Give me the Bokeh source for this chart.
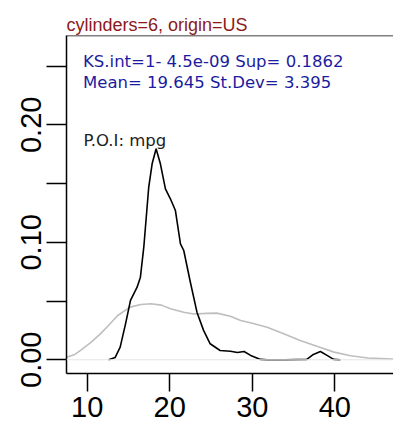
from bokeh.plotting import figure
from bokeh.models import Range1d, FixedTicker, Span, Label
from bokeh.embed import file_html
from bokeh.resources import INLINE

title_text = "cylinders=6, origin=US"
stats_line1 = "KS.int=1- 4.5e-09 Sup= 0.1862"
stats_line2 = "Mean= 19.645 St.Dev= 3.395"
poi_text = "P.O.I: mpg"

# overall density (gray)
gray_x = [7.5, 8.5, 9.2, 10.5, 11.6, 12.7, 13.7, 15.2, 16.5, 17.7, 19.0, 20.1, 21.7,
          22.9, 24.5, 25.7, 27.35, 28.6, 30.0, 31.8, 33.5, 35.8, 38.0, 39.9, 41.9, 44.0, 47.1]
gray_y = [0.0022, 0.0045, 0.008, 0.015, 0.022, 0.030, 0.0377, 0.0448, 0.047, 0.0477, 0.0465,
          0.0434, 0.0405, 0.039, 0.0395, 0.0397, 0.037, 0.0334, 0.031, 0.0277, 0.023, 0.0164,
          0.011, 0.0065, 0.0034, 0.0015, 0.0005]

# group density (black)
black_x = [12.6, 13.4, 14.0, 14.65, 15.25, 16.05, 16.45, 16.86, 17.46, 17.87, 18.35, 18.87,
           19.48, 20.08, 20.69, 21.3, 21.7, 22.5, 23.3, 24.1, 24.9, 26.1, 27.35, 28.2, 29.0,
           29.8, 31.0, 31.8, 34.0, 36.6, 37.4, 38.25, 39.05, 39.85, 40.67]
black_y = [0.0, 0.002, 0.0107, 0.0306, 0.0505, 0.0618, 0.0703, 0.0958, 0.147, 0.1668, 0.1796,
           0.1668, 0.1455, 0.137, 0.127, 0.0987, 0.093, 0.066, 0.0405, 0.025, 0.0136, 0.0079,
           0.0073, 0.0062, 0.007, 0.0037, 0.0003, 0.0, 0.0, 0.0003, 0.0045, 0.007, 0.0037,
           0.0003, 0.0]

x_ticks = [10, 20, 30, 40]
y_ticks = [0.0, 0.05, 0.10, 0.15, 0.20, 0.25]
y_labels = {0.0: "0.00", 0.05: "", 0.10: "0.10", 0.15: "", 0.20: "0.20", 0.25: ""}

FONT = "Liberation Sans"
TEXT_FONT = "DejaVu Sans"

p = figure(width=393, height=425, output_backend="svg", toolbar_location=None,
           x_range=Range1d(7.5, 47.1), y_range=Range1d(-0.0117, 0.276),
           min_border_left=66, min_border_right=0, min_border_top=35, min_border_bottom=52)
p.background_fill_color = "white"
p.border_fill_color = "white"
p.outline_line_color = None
p.xgrid.visible = False
p.ygrid.visible = False

p.title.text = title_text
p.title.text_font = FONT
p.title.text_font_size = "18px"
p.title.text_font_style = "normal"
p.title.text_color = "#8b1a1a"
p.title.align = "left"
p.title.standoff = 2

for ax in (p.xaxis[0], p.yaxis[0]):
    ax.axis_line_color = "black"
    ax.axis_line_width = 1.5
    ax.major_tick_line_color = "black"
    ax.major_tick_line_width = 1.5
    ax.minor_tick_line_color = None
    ax.major_tick_in = 0
    ax.major_label_text_font = FONT
    ax.major_label_text_font_size = "29px"
    ax.major_label_text_color = "black"

p.xaxis.ticker = FixedTicker(ticks=x_ticks)
p.xaxis.major_tick_out = 18
p.xaxis.major_label_standoff = 5
p.yaxis.ticker = FixedTicker(ticks=y_ticks)
p.yaxis.major_label_overrides = y_labels
p.yaxis.major_tick_out = 20
p.yaxis.major_label_standoff = 5
p.yaxis.major_label_orientation = "vertical"

p.add_layout(Span(location=0, dimension="width", line_color="#e6e6e6", line_width=1.2))
p.add_layout(Span(location=0.276, dimension="width", line_color="black", line_width=1.5))

p.line(gray_x, gray_y, line_color="#bebebe", line_width=1.6)
p.line(black_x, black_y, line_color="black", line_width=1.6)

p.add_layout(Label(x=9.5, y=0.2535, text=stats_line1, text_font=TEXT_FONT, text_font_size="16.5px",
                   text_color="#1c1ca0", text_baseline="alphabetic"))
p.add_layout(Label(x=9.5, y=0.2362, text=stats_line2, text_font=TEXT_FONT, text_font_size="16.5px",
                   text_color="#1c1ca0", text_baseline="alphabetic"))
p.add_layout(Label(x=9.55, y=0.1867, text=poi_text, text_font=TEXT_FONT, text_font_size="16.5px",
                   text_color="#222222", text_baseline="alphabetic"))

open("out.html", "w").write(file_html(p, INLINE))
